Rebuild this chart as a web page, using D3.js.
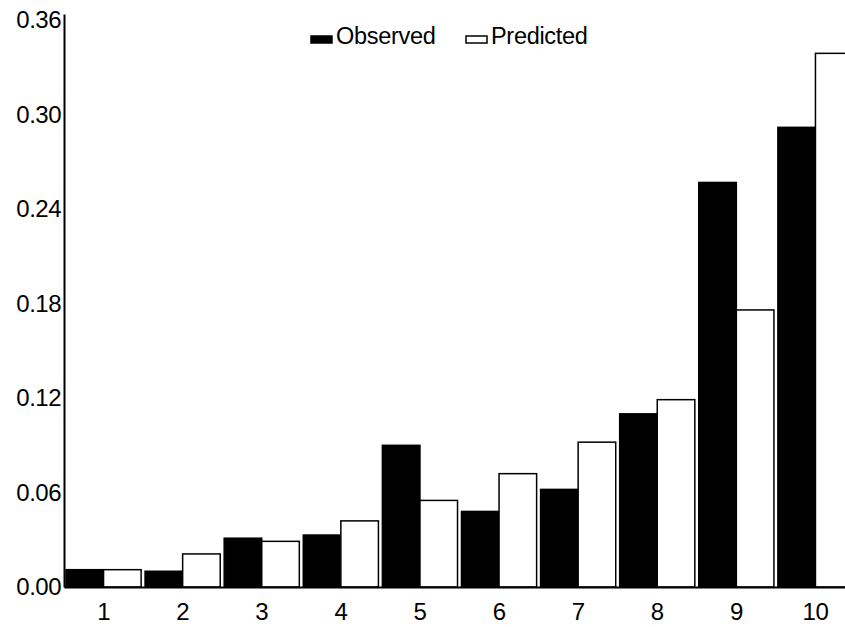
<!DOCTYPE html>
<html>
<head>
<meta charset="utf-8">
<script src="https://cdn.jsdelivr.net/npm/d3@7"></script>
<style>
  body { margin: 0; background: #fff; }
  svg { display: block; font-family: 'Liberation Sans', Arial, Helvetica, sans-serif; }
  .axis text { font-size: 24px; fill: #000; letter-spacing: -0.5px; }
  .legend text { font-size: 23.5px; fill: #000; letter-spacing: -0.3px; }
</style>
</head>
<body>
<script>
// chart data
const categories = ['1', '2', '3', '4', '5', '6', '7', '8', '9', '10']
const observed = [0.011, 0.010, 0.031, 0.033, 0.090, 0.048, 0.062, 0.110, 0.257, 0.292]
const predicted = [0.011, 0.021, 0.029, 0.042, 0.055, 0.072, 0.092, 0.119, 0.176, 0.339]
const seriesNames = ['Observed', 'Predicted']
const yTicks = [0, 0.06, 0.12, 0.18, 0.24, 0.30, 0.36]

const width = 845
const height = 627

const svg = d3.select('body').append('svg')
  .attr('width', width)
  .attr('height', height)

const x = d3.scaleBand()
  .domain(categories)
  .range([64, 855])
  .paddingInner(0.05)
  .paddingOuter(0.025)

const sub = d3.scaleBand()
  .domain(seriesNames)
  .range([0, x.bandwidth()])

const y = d3.scaleLinear()
  .domain([0, 0.364])
  .range([587, 14])

const fills = { Observed: '#000', Predicted: '#fff' }

// bars
const rows = categories.map((c, i) => ({
  cat: c,
  vals: [
    { name: 'Observed', v: observed[i] },
    { name: 'Predicted', v: predicted[i] }
  ]
}))

const groups = svg.append('g')
  .selectAll('g')
  .data(rows)
  .enter()
  .append('g')
    .attr('transform', d => 'translate(' + x(d.cat) + ',0)')

groups.selectAll('rect')
    .data(d => d.vals)
  .enter()
  .append('rect')
    .attr('x', d => sub(d.name))
    .attr('y', d => y(d.v))
    .attr('width', sub.bandwidth())
    .attr('height', d => y(0) - y(d.v))
    .attr('fill', d => fills[d.name])
    .attr('stroke', '#000')
    .attr('stroke-width', 1.5)

// axes
const yAxis = d3.axisLeft(y)
  .tickValues(yTicks)
  .tickFormat(d3.format('.2f'))
  .tickSize(0)
  .tickSizeOuter(0)
  .tickPadding(3)

const xAxis = d3.axisBottom(x)
  .tickSize(0)
  .tickSizeOuter(0)
  .tickPadding(16)

svg.append('g')
  .attr('class', 'axis')
  .attr('transform', 'translate(0,' + y(0) + ')')
  .call(xAxis)

svg.append('g')
  .attr('class', 'axis')
  .attr('transform', 'translate(64,0)')
  .call(yAxis)

svg.selectAll('.axis .domain')
  .attr('stroke', '#000')
  .attr('stroke-width', 2)
svg.selectAll('.axis text').attr('font-family', null).attr('font-size', null)

// legend
const legend = svg.append('g').attr('class', 'legend')
const legendX = [311, 466]
seriesNames.forEach((name, i) => {
  legend.append('rect')
    .attr('x', legendX[i])
    .attr('y', 36)
    .attr('width', 21)
    .attr('height', 7)
    .attr('fill', fills[name])
    .attr('stroke', '#000')
    .attr('stroke-width', 1.5)
  legend.append('text')
    .attr('x', legendX[i] + 25)
    .attr('y', 43.5)
    .text(name)
})
</script>
</body>
</html>
